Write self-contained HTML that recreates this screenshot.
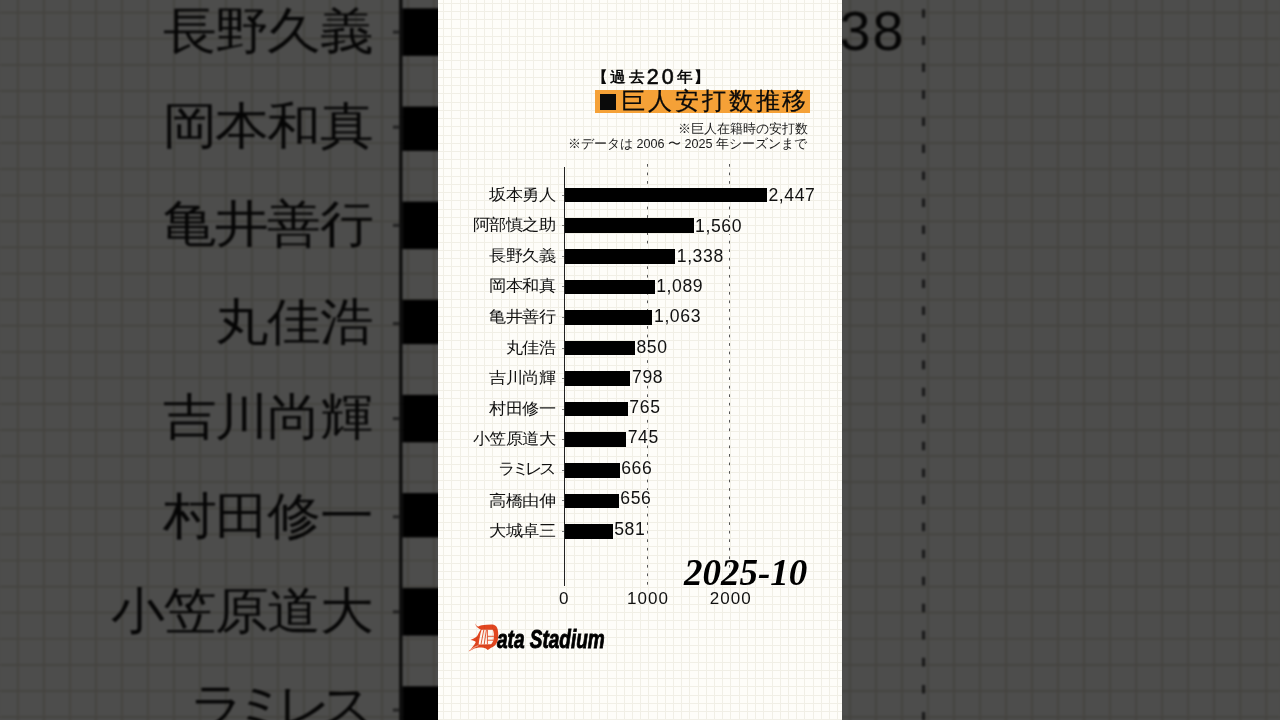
<!DOCTYPE html>
<html lang="ja"><head><meta charset="utf-8"><style>
*{margin:0;padding:0;box-sizing:border-box}
html,body{width:1280px;height:720px;overflow:hidden;background:#4a4a4a}
body{font-family:"Liberation Sans",sans-serif;position:relative}
.bgwrap{position:absolute;left:0;top:0;width:1280px;height:720px;overflow:hidden;background:#4a4a4a}
.panel{position:absolute;left:438px;top:0;width:404px;height:720px;background:#fefdf9;overflow:hidden;color:#0a0a0a}
.bgpanel{transform-origin:202px 360px;transform:scale(3.168);filter:brightness(0.305) blur(0.4px)}
.grid{position:absolute;left:0;top:0;mix-blend-mode:multiply}
.g{position:absolute;white-space:nowrap}
.g1{top:64.7px;font-size:16px;font-weight:bold;line-height:24px;transform:scaleY(0.96);transform-origin:0 100%}
.g1d{top:64.8px;font-size:21.5px;font-weight:normal;line-height:24px;-webkit-text-stroke:0.6px #0a0a0a}
.g2{top:86px;font-size:24.4px;line-height:30px;-webkit-text-stroke:0.25px #0a0a0a}
.obox{position:absolute;left:157.3px;top:89.9px;width:215.2px;height:22.8px;background:#f5a137}
.sq{position:absolute;left:162.2px;top:94.2px;width:15.7px;height:15.4px;background:#0a0a0a}
.note{position:absolute;right:34px;font-size:12.6px;white-space:nowrap;line-height:16px;color:#1a1a1a}
.n1{top:121px}
.n2{top:136px;right:35px}
.dash{position:absolute;top:164.4px}
.axis{position:absolute;top:167px;height:419px;width:1.2px;background:#222}
.bar{position:absolute;height:14.6px;background:#000}
.tick{position:absolute;width:2.4px;height:1px;background:#777}
.lab{position:absolute;right:286.6px;font-size:17px;letter-spacing:-0.5px;transform:scaleY(0.93);transform-origin:100% 40%;line-height:22px;white-space:nowrap;color:#111}
.val{position:absolute;font-size:17.6px;line-height:16px;padding:0 1px;letter-spacing:0.6px;white-space:nowrap;color:#111;background:#fefdf9}
.xt{position:absolute;top:589px;width:80px;text-align:center;font-size:17px;line-height:20px;letter-spacing:1px;text-indent:1px;color:#111}
.date{position:absolute;left:246px;top:552.5px;font-family:"Liberation Serif",serif;font-style:italic;font-weight:bold;font-size:37px;line-height:40px;white-space:nowrap;color:#000}
.dlogo{position:absolute;left:26px;top:619px}
.ds{position:absolute;left:59px;top:624px;font-size:25.5px;font-weight:bold;font-style:italic;letter-spacing:0px;transform:scaleX(0.745);transform-origin:0 0;white-space:nowrap;line-height:30px;color:#000;-webkit-text-stroke:0.9px #000}
</style></head>
<body>
<div class="bgwrap"><div class="panel bgpanel"><span class="g g1" style="left:154.00px">【</span><span class="g g1" style="left:172.00px">過</span><span class="g g1" style="left:191.00px">去</span><span class="g g1d" style="left:208.80px">2</span><span class="g g1d" style="left:223.80px">0</span><span class="g g1" style="left:239.00px">年</span><span class="g g1" style="left:256.00px">】</span>
<div class="note n1">※巨人在籍時の安打数</div>
<div class="note n2">※データは 2006 〜 2025 年シーズンまで</div>
<svg class="dash" width="4" height="424" style="left:207px"><line x1="2.5" y1="0" x2="2.5" y2="424" stroke="#555" stroke-width="1" stroke-dasharray="2.7 5.83"/></svg>
<svg class="dash" width="4" height="424" style="left:289px"><line x1="2.5" y1="0" x2="2.5" y2="424" stroke="#555" stroke-width="1" stroke-dasharray="2.7 5.83"/></svg>
<div class="axis" style="left:125.90px"></div>
<div class="bar" style="left:126.50px;top:187.80px;width:202.37px"></div>
<div class="tick" style="left:123.90px;top:194.60px"></div>
<div class="lab" style="top:184.70px">坂本勇人</div>
<div class="val" style="left:329.47px;top:186.80px">2,447</div>
<div class="bar" style="left:126.50px;top:218.38px;width:129.01px"></div>
<div class="tick" style="left:123.90px;top:225.18px"></div>
<div class="lab" style="top:215.28px">阿部慎之助</div>
<div class="val" style="left:256.11px;top:218.02px">1,560</div>
<div class="bar" style="left:126.50px;top:248.96px;width:110.65px"></div>
<div class="tick" style="left:123.90px;top:255.76px"></div>
<div class="lab" style="top:245.86px">長野久義</div>
<div class="val" style="left:237.75px;top:248.09px">1,338</div>
<div class="bar" style="left:126.50px;top:279.54px;width:90.06px"></div>
<div class="tick" style="left:123.90px;top:286.34px"></div>
<div class="lab" style="top:276.44px">岡本和真</div>
<div class="val" style="left:217.16px;top:278.16px">1,089</div>
<div class="bar" style="left:126.50px;top:310.12px;width:87.91px"></div>
<div class="tick" style="left:123.90px;top:316.92px"></div>
<div class="lab" style="top:307.02px">亀井善行</div>
<div class="val" style="left:215.01px;top:308.33px">1,063</div>
<div class="bar" style="left:126.50px;top:340.70px;width:70.30px"></div>
<div class="tick" style="left:123.90px;top:347.50px"></div>
<div class="lab" style="top:337.60px">丸佳浩</div>
<div class="val" style="left:197.40px;top:338.50px">850</div>
<div class="bar" style="left:126.50px;top:371.28px;width:65.99px"></div>
<div class="tick" style="left:123.90px;top:378.08px"></div>
<div class="lab" style="top:368.18px">吉川尚輝</div>
<div class="val" style="left:193.09px;top:368.77px">798</div>
<div class="bar" style="left:126.50px;top:401.86px;width:63.27px"></div>
<div class="tick" style="left:123.90px;top:408.66px"></div>
<div class="lab" style="top:398.76px">村田修一</div>
<div class="val" style="left:190.37px;top:399.04px">765</div>
<div class="bar" style="left:126.50px;top:432.44px;width:61.61px"></div>
<div class="tick" style="left:123.90px;top:439.24px"></div>
<div class="lab" style="top:429.34px">小笠原道大</div>
<div class="val" style="left:188.71px;top:429.31px">745</div>
<div class="bar" style="left:126.50px;top:463.02px;width:55.08px"></div>
<div class="tick" style="left:123.90px;top:469.82px"></div>
<div class="lab" style="top:458.62px;letter-spacing:-3.4px;right:289.5px">ラミレス</div>
<div class="val" style="left:182.18px;top:459.75px">666</div>
<div class="bar" style="left:126.50px;top:493.60px;width:54.25px"></div>
<div class="tick" style="left:123.90px;top:500.40px"></div>
<div class="lab" style="top:490.50px">高橋由伸</div>
<div class="val" style="left:181.35px;top:490.18px">656</div>
<div class="bar" style="left:126.50px;top:524.18px;width:48.05px"></div>
<div class="tick" style="left:123.90px;top:530.98px"></div>
<div class="lab" style="top:521.08px">大城卓三</div>
<div class="val" style="left:175.15px;top:520.62px">581</div>
<div class="xt" style="left:86.30px;text-indent:0px">0</div>
<div class="xt" style="left:169.50px;text-indent:1px">1000</div>
<div class="xt" style="left:252.20px;text-indent:1px">2000</div>
<div class="date">2025-10</div>
<svg class="dlogo" width="40" height="36" viewBox="0 0 40 36">
<path d="M11.2 4.2C11.8 6 12.8 7.2 14.5 7.6C16 6.6 19 5.9 22.5 5.8L28 5.5C30.5 5.6 32.3 7 33.2 9C34.2 11.5 34.4 15 34.2 19C33.8 22 32.8 24.8 30.5 26.8C28.8 28.2 26.5 29 25 30.2L23.6 31C22.6 29.6 20.5 28.8 17.5 28.6C14 28.6 10.5 29.2 8.5 30.4L4.6 32.4C6.5 30.3 9 27.6 10.6 25.2L11.8 23C10.8 22 8.8 21.2 6.4 21C8.5 20 11 19.2 13 17.2C14.2 15.2 15.2 12.8 16.8 10.4C15.3 9.8 13.6 8.6 12.6 7.4C11.8 6.6 11.3 5.4 11.2 4.2Z" fill="#e2461f"/>
<path d="M17.6 10.7L28.6 10.7C29.8 12.2 30 15 29.8 18.5C29.6 21.5 28.8 23.8 27 25.2L14.6 25.4C15.2 20.5 16.2 15 17.6 10.7Z" fill="#fff8f2"/>
<path d="M19.8 10.8L17 25.3M22.4 10.8L20.2 25.3M23.4 10.8V25.3M23.4 17.3H29.9M23.4 21.2H29.5" stroke="#e2461f" stroke-width="0.9" fill="none"/>
<path d="M14.4 26.6C12 27.4 9.5 28.6 6 31.2" stroke="#fff8f2" stroke-width="0.6" fill="none"/>
</svg><div class="ds">ata Stadium</div>
<svg class="grid" width="404" height="720" viewBox="0 0 404 720"><path d="M5.60 0V720 M13.81 0V720 M22.02 0V720 M30.23 0V720 M38.44 0V720 M46.65 0V720 M54.86 0V720 M63.07 0V720 M71.28 0V720 M79.49 0V720 M87.70 0V720 M95.91 0V720 M104.12 0V720 M112.33 0V720 M120.54 0V720 M128.75 0V720 M136.96 0V720 M145.17 0V720 M153.38 0V720 M161.59 0V720 M169.80 0V720 M178.01 0V720 M186.22 0V720 M194.43 0V720 M202.64 0V720 M210.85 0V720 M219.06 0V720 M227.27 0V720 M235.48 0V720 M243.69 0V720 M251.90 0V720 M260.11 0V720 M268.32 0V720 M276.53 0V720 M284.74 0V720 M292.95 0V720 M301.16 0V720 M309.37 0V720 M317.58 0V720 M325.79 0V720 M334.00 0V720 M342.21 0V720 M350.42 0V720 M358.63 0V720 M366.84 0V720 M375.05 0V720 M383.26 0V720 M391.47 0V720 M399.68 0V720 M0 3.30H404 M0 11.54H404 M0 19.77H404 M0 28.00H404 M0 36.24H404 M0 44.47H404 M0 52.71H404 M0 60.94H404 M0 69.18H404 M0 77.41H404 M0 85.65H404 M0 93.88H404 M0 102.12H404 M0 110.35H404 M0 118.59H404 M0 126.82H404 M0 135.06H404 M0 143.30H404 M0 151.53H404 M0 159.77H404 M0 168.00H404 M0 176.24H404 M0 184.47H404 M0 192.71H404 M0 200.94H404 M0 209.18H404 M0 217.41H404 M0 225.65H404 M0 233.88H404 M0 242.12H404 M0 250.35H404 M0 258.59H404 M0 266.82H404 M0 275.06H404 M0 283.29H404 M0 291.53H404 M0 299.76H404 M0 308.00H404 M0 316.23H404 M0 324.47H404 M0 332.70H404 M0 340.94H404 M0 349.17H404 M0 357.41H404 M0 365.64H404 M0 373.88H404 M0 382.11H404 M0 390.35H404 M0 398.58H404 M0 406.82H404 M0 415.05H404 M0 423.29H404 M0 431.52H404 M0 439.76H404 M0 447.99H404 M0 456.23H404 M0 464.46H404 M0 472.70H404 M0 480.93H404 M0 489.17H404 M0 497.40H404 M0 505.64H404 M0 513.87H404 M0 522.11H404 M0 530.34H404 M0 538.58H404 M0 546.81H404 M0 555.05H404 M0 563.28H404 M0 571.52H404 M0 579.75H404 M0 587.99H404 M0 596.22H404 M0 604.46H404 M0 612.69H404 M0 620.93H404 M0 629.16H404 M0 637.40H404 M0 645.63H404 M0 653.87H404 M0 662.10H404 M0 670.34H404 M0 678.57H404 M0 686.81H404 M0 695.04H404 M0 703.28H404 M0 711.51H404 M0 719.75H404" stroke="#e0ddd2" stroke-width="0.55" fill="none"/></svg>
<div class="obox"></div><div class="sq"></div>
<span class="g g2" style="left:183.40px">巨</span><span class="g g2" style="left:210.20px">人</span><span class="g g2" style="left:237.20px">安</span><span class="g g2" style="left:264.20px">打</span><span class="g g2" style="left:291.20px">数</span><span class="g g2" style="left:318.00px">推</span><span class="g g2" style="left:344.20px">移</span></div></div>
<div class="panel"><span class="g g1" style="left:154.00px">【</span><span class="g g1" style="left:172.00px">過</span><span class="g g1" style="left:191.00px">去</span><span class="g g1d" style="left:208.80px">2</span><span class="g g1d" style="left:223.80px">0</span><span class="g g1" style="left:239.00px">年</span><span class="g g1" style="left:256.00px">】</span>
<div class="note n1">※巨人在籍時の安打数</div>
<div class="note n2">※データは 2006 〜 2025 年シーズンまで</div>
<svg class="dash" width="4" height="424" style="left:207px"><line x1="2.5" y1="0" x2="2.5" y2="424" stroke="#555" stroke-width="1" stroke-dasharray="2.7 5.83"/></svg>
<svg class="dash" width="4" height="424" style="left:289px"><line x1="2.5" y1="0" x2="2.5" y2="424" stroke="#555" stroke-width="1" stroke-dasharray="2.7 5.83"/></svg>
<div class="axis" style="left:125.90px"></div>
<div class="bar" style="left:126.50px;top:187.80px;width:202.37px"></div>
<div class="tick" style="left:123.90px;top:194.60px"></div>
<div class="lab" style="top:184.70px">坂本勇人</div>
<div class="val" style="left:329.47px;top:186.80px">2,447</div>
<div class="bar" style="left:126.50px;top:218.38px;width:129.01px"></div>
<div class="tick" style="left:123.90px;top:225.18px"></div>
<div class="lab" style="top:215.28px">阿部慎之助</div>
<div class="val" style="left:256.11px;top:218.02px">1,560</div>
<div class="bar" style="left:126.50px;top:248.96px;width:110.65px"></div>
<div class="tick" style="left:123.90px;top:255.76px"></div>
<div class="lab" style="top:245.86px">長野久義</div>
<div class="val" style="left:237.75px;top:248.09px">1,338</div>
<div class="bar" style="left:126.50px;top:279.54px;width:90.06px"></div>
<div class="tick" style="left:123.90px;top:286.34px"></div>
<div class="lab" style="top:276.44px">岡本和真</div>
<div class="val" style="left:217.16px;top:278.16px">1,089</div>
<div class="bar" style="left:126.50px;top:310.12px;width:87.91px"></div>
<div class="tick" style="left:123.90px;top:316.92px"></div>
<div class="lab" style="top:307.02px">亀井善行</div>
<div class="val" style="left:215.01px;top:308.33px">1,063</div>
<div class="bar" style="left:126.50px;top:340.70px;width:70.30px"></div>
<div class="tick" style="left:123.90px;top:347.50px"></div>
<div class="lab" style="top:337.60px">丸佳浩</div>
<div class="val" style="left:197.40px;top:338.50px">850</div>
<div class="bar" style="left:126.50px;top:371.28px;width:65.99px"></div>
<div class="tick" style="left:123.90px;top:378.08px"></div>
<div class="lab" style="top:368.18px">吉川尚輝</div>
<div class="val" style="left:193.09px;top:368.77px">798</div>
<div class="bar" style="left:126.50px;top:401.86px;width:63.27px"></div>
<div class="tick" style="left:123.90px;top:408.66px"></div>
<div class="lab" style="top:398.76px">村田修一</div>
<div class="val" style="left:190.37px;top:399.04px">765</div>
<div class="bar" style="left:126.50px;top:432.44px;width:61.61px"></div>
<div class="tick" style="left:123.90px;top:439.24px"></div>
<div class="lab" style="top:429.34px">小笠原道大</div>
<div class="val" style="left:188.71px;top:429.31px">745</div>
<div class="bar" style="left:126.50px;top:463.02px;width:55.08px"></div>
<div class="tick" style="left:123.90px;top:469.82px"></div>
<div class="lab" style="top:458.62px;letter-spacing:-3.4px;right:289.5px">ラミレス</div>
<div class="val" style="left:182.18px;top:459.75px">666</div>
<div class="bar" style="left:126.50px;top:493.60px;width:54.25px"></div>
<div class="tick" style="left:123.90px;top:500.40px"></div>
<div class="lab" style="top:490.50px">高橋由伸</div>
<div class="val" style="left:181.35px;top:490.18px">656</div>
<div class="bar" style="left:126.50px;top:524.18px;width:48.05px"></div>
<div class="tick" style="left:123.90px;top:530.98px"></div>
<div class="lab" style="top:521.08px">大城卓三</div>
<div class="val" style="left:175.15px;top:520.62px">581</div>
<div class="xt" style="left:86.30px;text-indent:0px">0</div>
<div class="xt" style="left:169.50px;text-indent:1px">1000</div>
<div class="xt" style="left:252.20px;text-indent:1px">2000</div>
<div class="date">2025-10</div>
<svg class="dlogo" width="40" height="36" viewBox="0 0 40 36">
<path d="M11.2 4.2C11.8 6 12.8 7.2 14.5 7.6C16 6.6 19 5.9 22.5 5.8L28 5.5C30.5 5.6 32.3 7 33.2 9C34.2 11.5 34.4 15 34.2 19C33.8 22 32.8 24.8 30.5 26.8C28.8 28.2 26.5 29 25 30.2L23.6 31C22.6 29.6 20.5 28.8 17.5 28.6C14 28.6 10.5 29.2 8.5 30.4L4.6 32.4C6.5 30.3 9 27.6 10.6 25.2L11.8 23C10.8 22 8.8 21.2 6.4 21C8.5 20 11 19.2 13 17.2C14.2 15.2 15.2 12.8 16.8 10.4C15.3 9.8 13.6 8.6 12.6 7.4C11.8 6.6 11.3 5.4 11.2 4.2Z" fill="#e2461f"/>
<path d="M17.6 10.7L28.6 10.7C29.8 12.2 30 15 29.8 18.5C29.6 21.5 28.8 23.8 27 25.2L14.6 25.4C15.2 20.5 16.2 15 17.6 10.7Z" fill="#fff8f2"/>
<path d="M19.8 10.8L17 25.3M22.4 10.8L20.2 25.3M23.4 10.8V25.3M23.4 17.3H29.9M23.4 21.2H29.5" stroke="#e2461f" stroke-width="0.9" fill="none"/>
<path d="M14.4 26.6C12 27.4 9.5 28.6 6 31.2" stroke="#fff8f2" stroke-width="0.6" fill="none"/>
</svg><div class="ds">ata Stadium</div>
<svg class="grid" width="404" height="720" viewBox="0 0 404 720"><path d="M5.5 0V720 M13.5 0V720 M22.5 0V720 M30.5 0V720 M38.5 0V720 M46.5 0V720 M54.5 0V720 M63.5 0V720 M71.5 0V720 M79.5 0V720 M87.5 0V720 M95.5 0V720 M104.5 0V720 M112.5 0V720 M120.5 0V720 M128.5 0V720 M136.5 0V720 M145.5 0V720 M153.5 0V720 M161.5 0V720 M169.5 0V720 M178.5 0V720 M186.5 0V720 M194.5 0V720 M202.5 0V720 M210.5 0V720 M219.5 0V720 M227.5 0V720 M235.5 0V720 M243.5 0V720 M251.5 0V720 M260.5 0V720 M268.5 0V720 M276.5 0V720 M284.5 0V720 M292.5 0V720 M301.5 0V720 M309.5 0V720 M317.5 0V720 M325.5 0V720 M334.5 0V720 M342.5 0V720 M350.5 0V720 M358.5 0V720 M366.5 0V720 M375.5 0V720 M383.5 0V720 M391.5 0V720 M399.5 0V720 M0 3.5H404 M0 11.5H404 M0 19.5H404 M0 28.5H404 M0 36.5H404 M0 44.5H404 M0 52.5H404 M0 60.5H404 M0 69.5H404 M0 77.5H404 M0 85.5H404 M0 93.5H404 M0 102.5H404 M0 110.5H404 M0 118.5H404 M0 126.5H404 M0 135.5H404 M0 143.5H404 M0 151.5H404 M0 159.5H404 M0 168.5H404 M0 176.5H404 M0 184.5H404 M0 192.5H404 M0 200.5H404 M0 209.5H404 M0 217.5H404 M0 225.5H404 M0 233.5H404 M0 242.5H404 M0 250.5H404 M0 258.5H404 M0 266.5H404 M0 275.5H404 M0 283.5H404 M0 291.5H404 M0 299.5H404 M0 307.5H404 M0 316.5H404 M0 324.5H404 M0 332.5H404 M0 340.5H404 M0 349.5H404 M0 357.5H404 M0 365.5H404 M0 373.5H404 M0 382.5H404 M0 390.5H404 M0 398.5H404 M0 406.5H404 M0 415.5H404 M0 423.5H404 M0 431.5H404 M0 439.5H404 M0 447.5H404 M0 456.5H404 M0 464.5H404 M0 472.5H404 M0 480.5H404 M0 489.5H404 M0 497.5H404 M0 505.5H404 M0 513.5H404 M0 522.5H404 M0 530.5H404 M0 538.5H404 M0 546.5H404 M0 555.5H404 M0 563.5H404 M0 571.5H404 M0 579.5H404 M0 587.5H404 M0 596.5H404 M0 604.5H404 M0 612.5H404 M0 620.5H404 M0 629.5H404 M0 637.5H404 M0 645.5H404 M0 653.5H404 M0 662.5H404 M0 670.5H404 M0 678.5H404 M0 686.5H404 M0 695.5H404 M0 703.5H404 M0 711.5H404 M0 719.5H404" stroke="#f2f1ec" stroke-width="1" fill="none" shape-rendering="crispEdges"/></svg>
<div class="obox"></div><div class="sq"></div>
<span class="g g2" style="left:183.40px">巨</span><span class="g g2" style="left:210.20px">人</span><span class="g g2" style="left:237.20px">安</span><span class="g g2" style="left:264.20px">打</span><span class="g g2" style="left:291.20px">数</span><span class="g g2" style="left:318.00px">推</span><span class="g g2" style="left:344.20px">移</span></div>
</body></html>
